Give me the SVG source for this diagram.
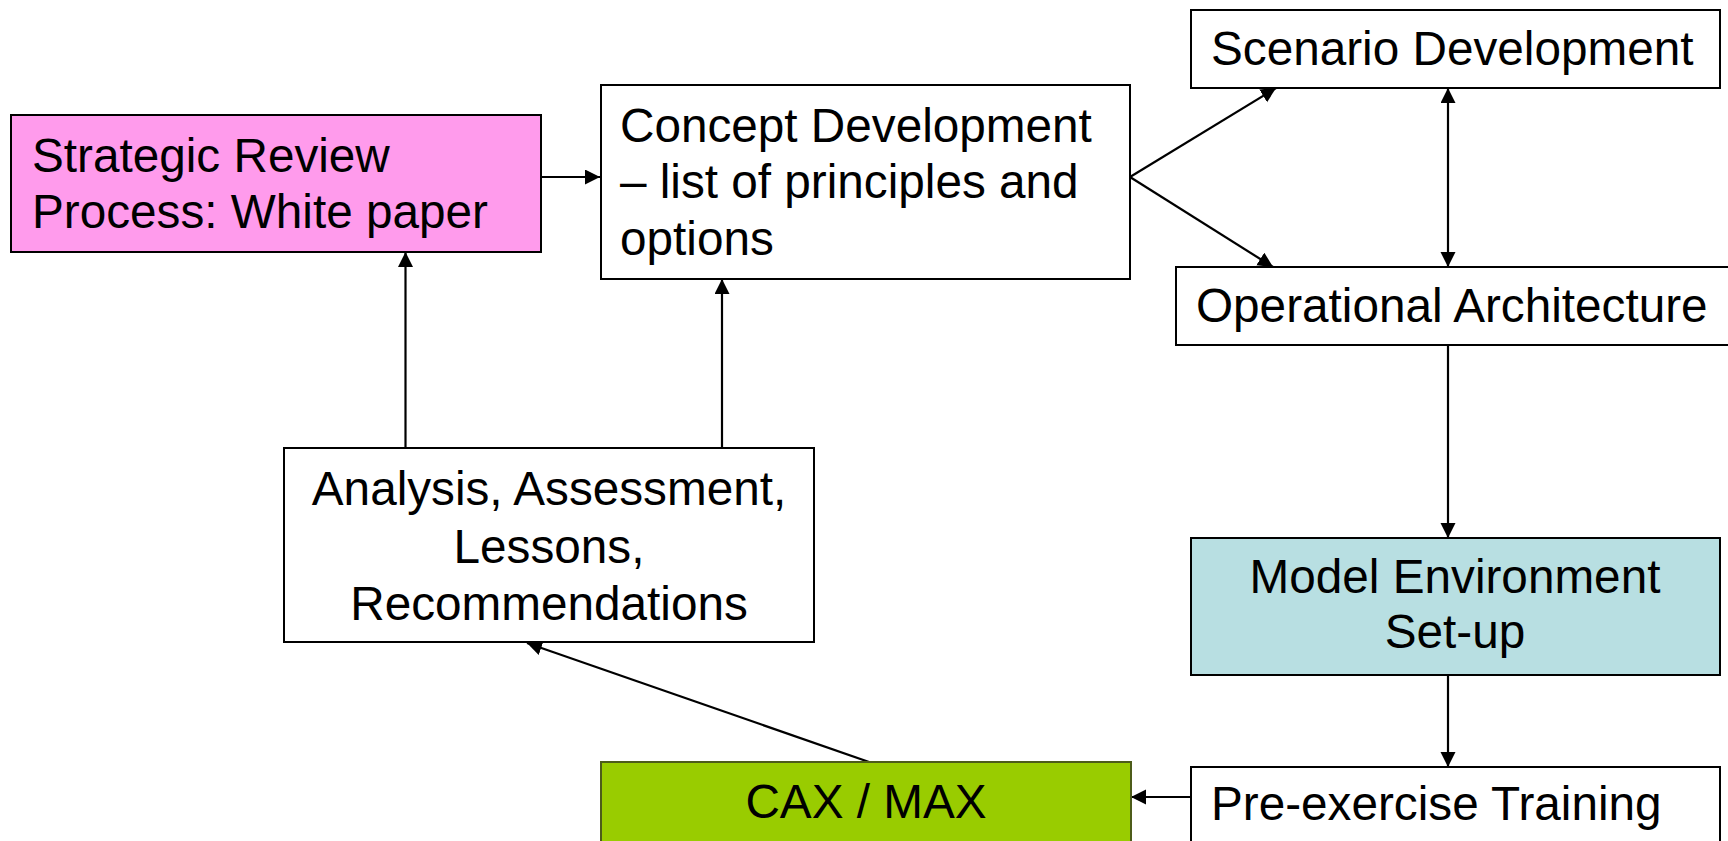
<svg xmlns="http://www.w3.org/2000/svg" width="1728" height="841" viewBox="0 0 1728 841">
<style>
  .box { stroke: #000; stroke-width: 2; }
  .t { font-family: "Liberation Sans", Arial, sans-serif; font-size: 47.7px; fill: #000; }
  .c { text-anchor: middle; }
  .conn line { stroke: #000; stroke-width: 2.2; fill: none; }
</style>
<defs>
  <marker id="ah" markerUnits="userSpaceOnUse" markerWidth="16" markerHeight="16" refX="15" refY="7.5" orient="auto-start-reverse" viewBox="0 0 16 16">
    <path d="M0,0 L15,7.5 L0,15 z" fill="#000"/>
  </marker>
</defs>
<rect width="1728" height="841" fill="#fff"/>

<g class="conn" id="connectors">
  <line x1="541" y1="177" x2="600" y2="177" marker-end="url(#ah)"/>
  <line x1="1130" y1="177" x2="1276" y2="88" marker-end="url(#ah)"/>
  <line x1="1130" y1="177" x2="1273" y2="267" marker-end="url(#ah)"/>
  <line x1="1448" y1="88" x2="1448" y2="267" marker-start="url(#ah)" marker-end="url(#ah)"/>
  <line x1="1448" y1="345" x2="1448" y2="538" marker-end="url(#ah)"/>
  <line x1="1448" y1="675" x2="1448" y2="767" marker-end="url(#ah)"/>
  <line x1="1191" y1="797" x2="1131" y2="797" marker-end="url(#ah)"/>
  <line x1="872" y1="763" x2="527" y2="643" marker-end="url(#ah)"/>
  <line x1="405.5" y1="448" x2="405.5" y2="252" marker-end="url(#ah)"/>
  <line x1="722" y1="448" x2="722" y2="279" marker-end="url(#ah)"/>
</g>

<g id="strategic-review">
  <rect class="box" x="11" y="115" width="530" height="137" fill="#FF9BEC"/>
  <text class="t" x="32" y="172">Strategic Review</text>
  <text class="t" x="32" y="228">Process: White paper</text>
</g>

<g id="concept-development">
  <rect class="box" x="601" y="85" width="529" height="194" fill="#fff"/>
  <text class="t" x="620" y="142">Concept Development</text>
  <text class="t" x="620" y="198">– list of principles and</text>
  <text class="t" x="620" y="255">options</text>
</g>

<g id="scenario-development">
  <rect class="box" x="1191" y="10" width="529" height="78" fill="#fff"/>
  <text class="t" x="1211" y="65">Scenario Development</text>
</g>

<g id="operational-architecture">
  <rect class="box" x="1176" y="267" width="560" height="78" fill="#fff"/>
  <text class="t" x="1196" y="322">Operational Architecture</text>
</g>

<g id="model-environment">
  <rect class="box" x="1191" y="538" width="529" height="137" fill="#B8DFE2"/>
  <text class="t c" x="1455" y="593">Model Environment</text>
  <text class="t c" x="1455" y="648">Set-up</text>
</g>

<g id="pre-exercise-training">
  <rect class="box" x="1191" y="767" width="529" height="100" fill="#fff"/>
  <text class="t" x="1211" y="820">Pre-exercise Training</text>
</g>

<g id="cax-max">
  <rect x="601" y="762" width="530" height="100" fill="#99CC00" stroke="#4d5c1a" stroke-width="2"/>
  <text class="t c" x="866" y="818">CAX / MAX</text>
</g>

<g id="analysis">
  <rect class="box" x="284" y="448" width="530" height="194" fill="#fff"/>
  <text class="t c" x="549" y="505">Analysis, Assessment,</text>
  <text class="t c" x="549" y="563">Lessons,</text>
  <text class="t c" x="549" y="620">Recommendations</text>
</g>
</svg>
